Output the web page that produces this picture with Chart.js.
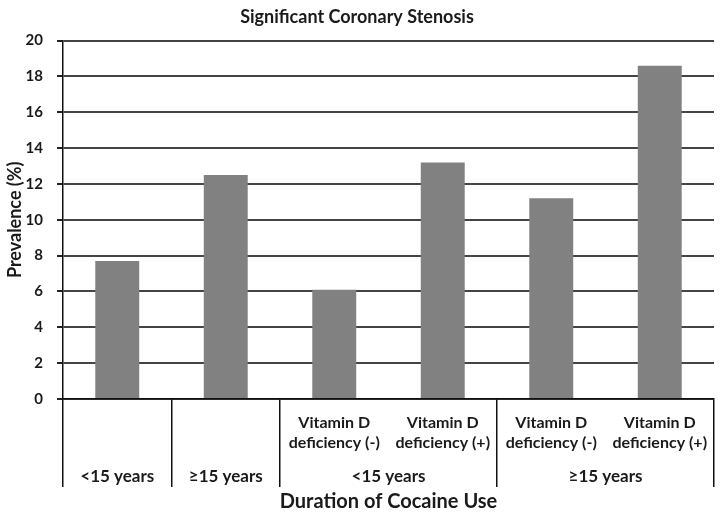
<!DOCTYPE html>
<html>
<head>
<meta charset="utf-8">
<script src="https://cdn.jsdelivr.net/npm/chart.js@4.4.1/dist/chart.umd.min.js"></script>
<style>
  html, body { margin: 0; padding: 0; background: #fff; }
  #wrap { width: 720px; height: 514px; }
</style>
</head>
<body>
<div id="wrap"><canvas id="chart"></canvas></div>
<script>
// values
const subLabels = [
  [""],
  [""],
  ["Vitamin D", "deficiency (-)"],
  ["Vitamin D", "deficiency (+)"],
  ["Vitamin D", "deficiency (-)"],
  ["Vitamin D", "deficiency (+)"]
];
const prevalence = [7.7, 12.5, 6.1, 13.2, 11.2, 18.6];
const groupLabels = ["<15 years", "\u226515 years", "<15 years", "\u226515 years"];
const groupSpans = [1, 1, 2, 2];
const yTicks = [0, 2, 4, 6, 8, 10, 12, 14, 16, 18, 20];

const FONT = "Lato, 'Liberation Sans', sans-serif";
const TEXT = "#1a1a1a";

// no divider inside a pair of bars that share a group label
const hiddenDividers = [];
let pos = 0;
groupSpans.forEach(span => {
  for (let k = 1; k < span; k++) hiddenDividers.push(pos + k);
  pos += span;
});

const groupLabelPlugin = {
  id: "groupLabels",
  afterDraw(chart) {
    const { ctx } = chart;
    const x = chart.scales.x;
    ctx.save();
    ctx.font = "bold 17px " + FONT;
    ctx.fillStyle = TEXT;
    ctx.textAlign = "center";
    ctx.textBaseline = "middle";
    let start = 0;
    groupLabels.forEach((label, i) => {
      const end = start + groupSpans[i] - 1;
      const cx = (x.getPixelForValue(start) + x.getPixelForValue(end)) / 2;
      ctx.fillText(label, cx, x.top + 78);
      start = end + 1;
    });
    ctx.restore();
  }
};

new Chart(document.getElementById("chart"), {
  type: "bar",
  data: {
    labels: subLabels,
    datasets: [{
      data: prevalence,
      backgroundColor: "#818181",
      borderWidth: 0,
      categoryPercentage: 1,
      barPercentage: 0.405
    }]
  },
  options: {
    responsive: true,
    maintainAspectRatio: false,
    animation: false,
    layout: { padding: { left: 0, right: 6, top: 0, bottom: 0 } },
    plugins: {
      legend: { display: false },
      tooltip: { enabled: false },
      title: {
        display: true,
        text: "Significant Coronary Stenosis",
        color: TEXT,
        font: { family: FONT, size: 18, weight: "bold" },
        padding: { top: 6, bottom: 13 }
      }
    },
    scales: {
      y: {
        min: 0,
        max: 20,
        afterBuildTicks: scale => { scale.ticks = yTicks.map(v => ({ value: v })); },
        afterFit: scale => { scale.width = 63; },
        ticks: {
          color: TEXT,
          padding: 14,
          font: { family: FONT, size: 15, weight: "bold" }
        },
        grid: { color: "#444", lineWidth: 2, tickLength: 6, tickColor: "#222" },
        border: { color: "#111", width: 1.5 },
        title: {
          display: true,
          text: "Prevalence (%)",
          color: TEXT,
          font: { family: FONT, size: 18, weight: "bold" },
          padding: { top: 4, bottom: 0 }
        }
      },
      x: {
        afterFit: scale => { scale.height = 115; },
        ticks: {
          color: TEXT,
          padding: -75,
          maxRotation: 0,
          autoSkip: false,
          font: { family: FONT, size: 16, weight: "bold", lineHeight: 1.3 }
        },
        grid: {
          offset: true,
          drawOnChartArea: false,
          drawTicks: true,
          tickLength: 88,
          lineWidth: 1.5,
          color: ctx => hiddenDividers.includes(ctx.index) ? "rgba(0,0,0,0)" : "#111"
        },
        border: { color: "#111", width: 1.5 },
        title: {
          display: true,
          text: "Duration of Cocaine Use",
          color: TEXT,
          font: { family: FONT, size: 20, weight: "bold" },
          padding: { top: 0, bottom: 0 }
        }
      }
    }
  },
  plugins: [groupLabelPlugin]
});
</script>
</body>
</html>
